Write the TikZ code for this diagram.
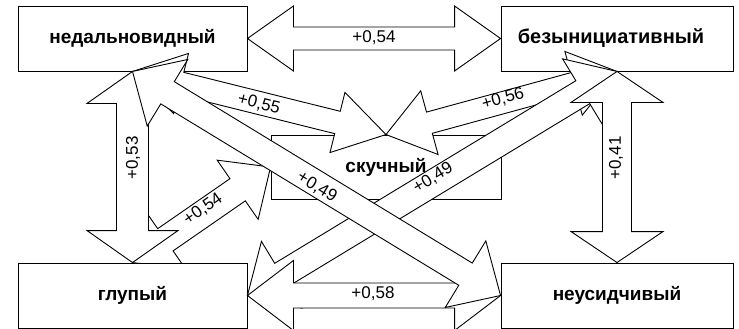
\documentclass[tikz,border=0pt]{standalone}
\usepackage{fontspec}
\setmainfont{Liberation Sans}
\newfontfamily\boxfont{Liberation Sans}
\newfontfamily\labfont{Liberation Sans}
\usetikzlibrary{calc}
\tikzset{
  box/.style={draw, fill=white, line width=0.9pt, inner sep=0pt,
    minimum height=65pt, font=\boxfont\bfseries\fontsize{19}{19}\selectfont},
  blk/.style={draw, fill=white, line width=0.9pt, line join=miter},
  boxtext/.style={font=\boxfont\bfseries\fontsize{19}{19}\selectfont, inner sep=0pt},
  lab/.style={font=\labfont\fontsize{17}{17}\selectfont, inner sep=0pt},
}
% #1 options, #2 from, #3 to, #4 shaft half width, #5 head half width, #6 head length
\newcommand\dblock[6][]{%
  \coordinate (ba1) at ($(#2)!#6!(#3)$);
  \coordinate (ba2) at ($(#3)!#6!(#2)$);
  \draw[blk,#1] (#2) -- ($(ba1)!#5!90:(#3)$) -- ($(ba1)!#4!90:(#3)$)
    -- ($(ba2)!#4!-90:(#2)$) -- ($(ba2)!#5!-90:(#2)$) -- (#3)
    -- ($(ba2)!#5!90:(#2)$) -- ($(ba2)!#4!90:(#2)$)
    -- ($(ba1)!#4!-90:(#3)$) -- ($(ba1)!#5!-90:(#3)$) -- cycle;}
\begin{document}
\begin{tikzpicture}[x=1pt,y=-1pt]
\useasboundingbox (0,0) rectangle (739,329);
% boxes
\node[box, minimum width=229pt] (ned) at (132.5,38.5) {недальновидный};
\node[box, minimum width=232pt] (bez) at (617,38.5) {};
\node[box, minimum width=229pt] (glu) at (132.5,295.5) {глупый};
\node[box, minimum width=232pt] (neu) at (617,295.5) {неусидчивый};
\node[box, minimum width=230pt, minimum height=64pt] (sku) at (386,167) {};
% block arrows, from bottom to top
\dblock{ned.south}{sku.north}{11.5pt}{31pt}{50pt}
\dblock{sku.north}{bez.south}{11pt}{33pt}{45pt}
\begin{scope}
  \clip (0,0) rectangle (739,262.6);
  \dblock{glu.north}{sku.west}{13.5pt}{36pt}{40pt}
\end{scope}
\dblock{bez.south}{glu.east}{13.4pt}{39pt}{40pt}
\dblock{glu.east}{neu.west}{12.5pt}{35pt}{46pt}
\dblock{ned.south}{glu.north}{16pt}{45.5pt}{32pt}
\dblock{bez.south}{neu.north}{14.5pt}{46pt}{31pt}
\dblock{ned.south}{neu.west}{13pt}{39pt}{41pt}
\dblock{ned.east}{bez.west}{11.5pt}{32.5pt}{46pt}
% texts
\node[boxtext, font=\boxfont\bfseries\fontsize{20}{20}\selectfont] (beztext) at (611,38.5) {безынициативный};
\node[boxtext] (skutext) at (sku.center) {скучный};
\node[lab] (l1) at (374,38) {+0,54};
\node[lab] (l2) at (373,294) {+0,58};
\node[lab, rotate=90] (l3) at (133,158) {+0,53};
\node[lab, rotate=90] (l4) at (616,158) {+0,41};
\node[lab, rotate=-14.2] (l5) at (259,104) {+0,55};
\node[lab, rotate=15.5] (l6) at (503,99) {+0,56};
\node[lab, rotate=34.7] (l7) at (203,209) {+0,54};
\node[lab, rotate=-31.4] (l8) at (317,187) {+0,49};
\node[lab, rotate=31.25] (l9) at (433,178) {+0,49};
\end{tikzpicture}
\end{document}
